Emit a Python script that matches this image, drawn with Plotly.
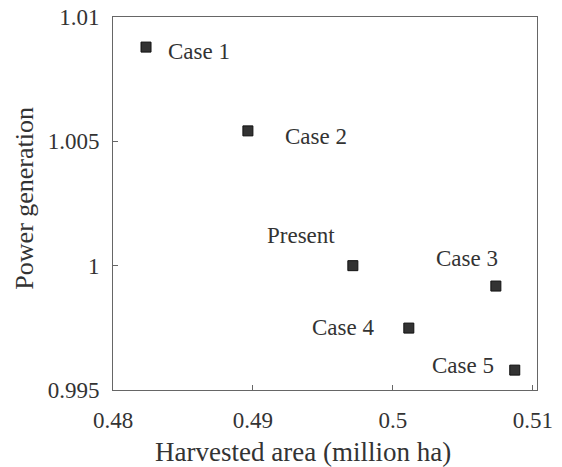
import plotly.graph_objects as go

labels = ["Case 1", "Case 2", "Present", "Case 3", "Case 4", "Case 5"]
area = [0.48236, 0.48964, 0.49714, 0.50736, 0.50114, 0.50871]
power = [1.00879, 1.00542, 1.0, 0.99918, 0.99749, 0.99580]

x_ticks = [0.48, 0.49, 0.5, 0.51]
x_ticktext = ["0.48", "0.49", "0.5", "0.51"]
y_ticks = [0.995, 1.0, 1.005, 1.01]
y_ticktext = ["0.995", "1", "1.005", "1.01"]

# label placement (pixel offsets relative to each marker)
label_pos = {
    "Case 1": dict(xanchor="left", xshift=20, yshift=-4),
    "Case 2": dict(xanchor="left", xshift=35, yshift=-6),
    "Present": dict(xanchor="center", xshift=-52, yshift=30),
    "Case 3": dict(xanchor="center", xshift=-29, yshift=28),
    "Case 4": dict(xanchor="right", xshift=-33, yshift=1),
    "Case 5": dict(xanchor="right", xshift=-19, yshift=5),
}

FONT = "Liberation Serif"
TXT = "#333333"

fig = go.Figure()
fig.add_trace(go.Scatter(
    x=area, y=power, mode="markers",
    marker=dict(symbol="square", size=10, color="#333333",
                line=dict(color="#111111", width=1)),
    showlegend=False, hoverinfo="skip",
))

annotations = []
for lab, xv, yv in zip(labels, area, power):
    p = label_pos[lab]
    annotations.append(dict(
        x=xv, y=yv, xref="x", yref="y", text=lab, showarrow=False,
        xanchor=p["xanchor"], yanchor="middle",
        xshift=p["xshift"], yshift=p["yshift"],
        font=dict(family=FONT, size=23, color=TXT),
    ))

annotations.append(dict(
    x=0.449, y=0, xref="paper", yref="paper", text="Harvested area (million ha)",
    showarrow=False, xanchor="center", yanchor="middle", yshift=-62,
    font=dict(family=FONT, size=27, color=TXT),
))
annotations.append(dict(
    x=0, y=0.513, xref="paper", yref="paper", text="Power generation",
    showarrow=False, xanchor="center", yanchor="middle", xshift=-88, textangle=-90,
    font=dict(family=FONT, size=26, color=TXT),
))

axis_common = dict(
    showline=True, linecolor="#666666", linewidth=1, mirror=True,
    showgrid=False, zeroline=False, ticks="inside", ticklen=5,
    tickcolor="#666666", tickfont=dict(family=FONT, size=23, color=TXT),
    automargin=False,
)

fig.update_layout(
    width=562, height=467,
    margin=dict(l=113, r=25, t=17, b=77),
    paper_bgcolor="white", plot_bgcolor="white",
    xaxis=dict(range=[0.48, 0.5103], tickvals=x_ticks, ticktext=x_ticktext,
               ticklabelstandoff=9, **axis_common),
    yaxis=dict(range=[0.995, 1.01], tickvals=y_ticks, ticktext=y_ticktext,
               ticklabelstandoff=8, **axis_common),
    annotations=annotations,
)

fig.write_html("out.html")
